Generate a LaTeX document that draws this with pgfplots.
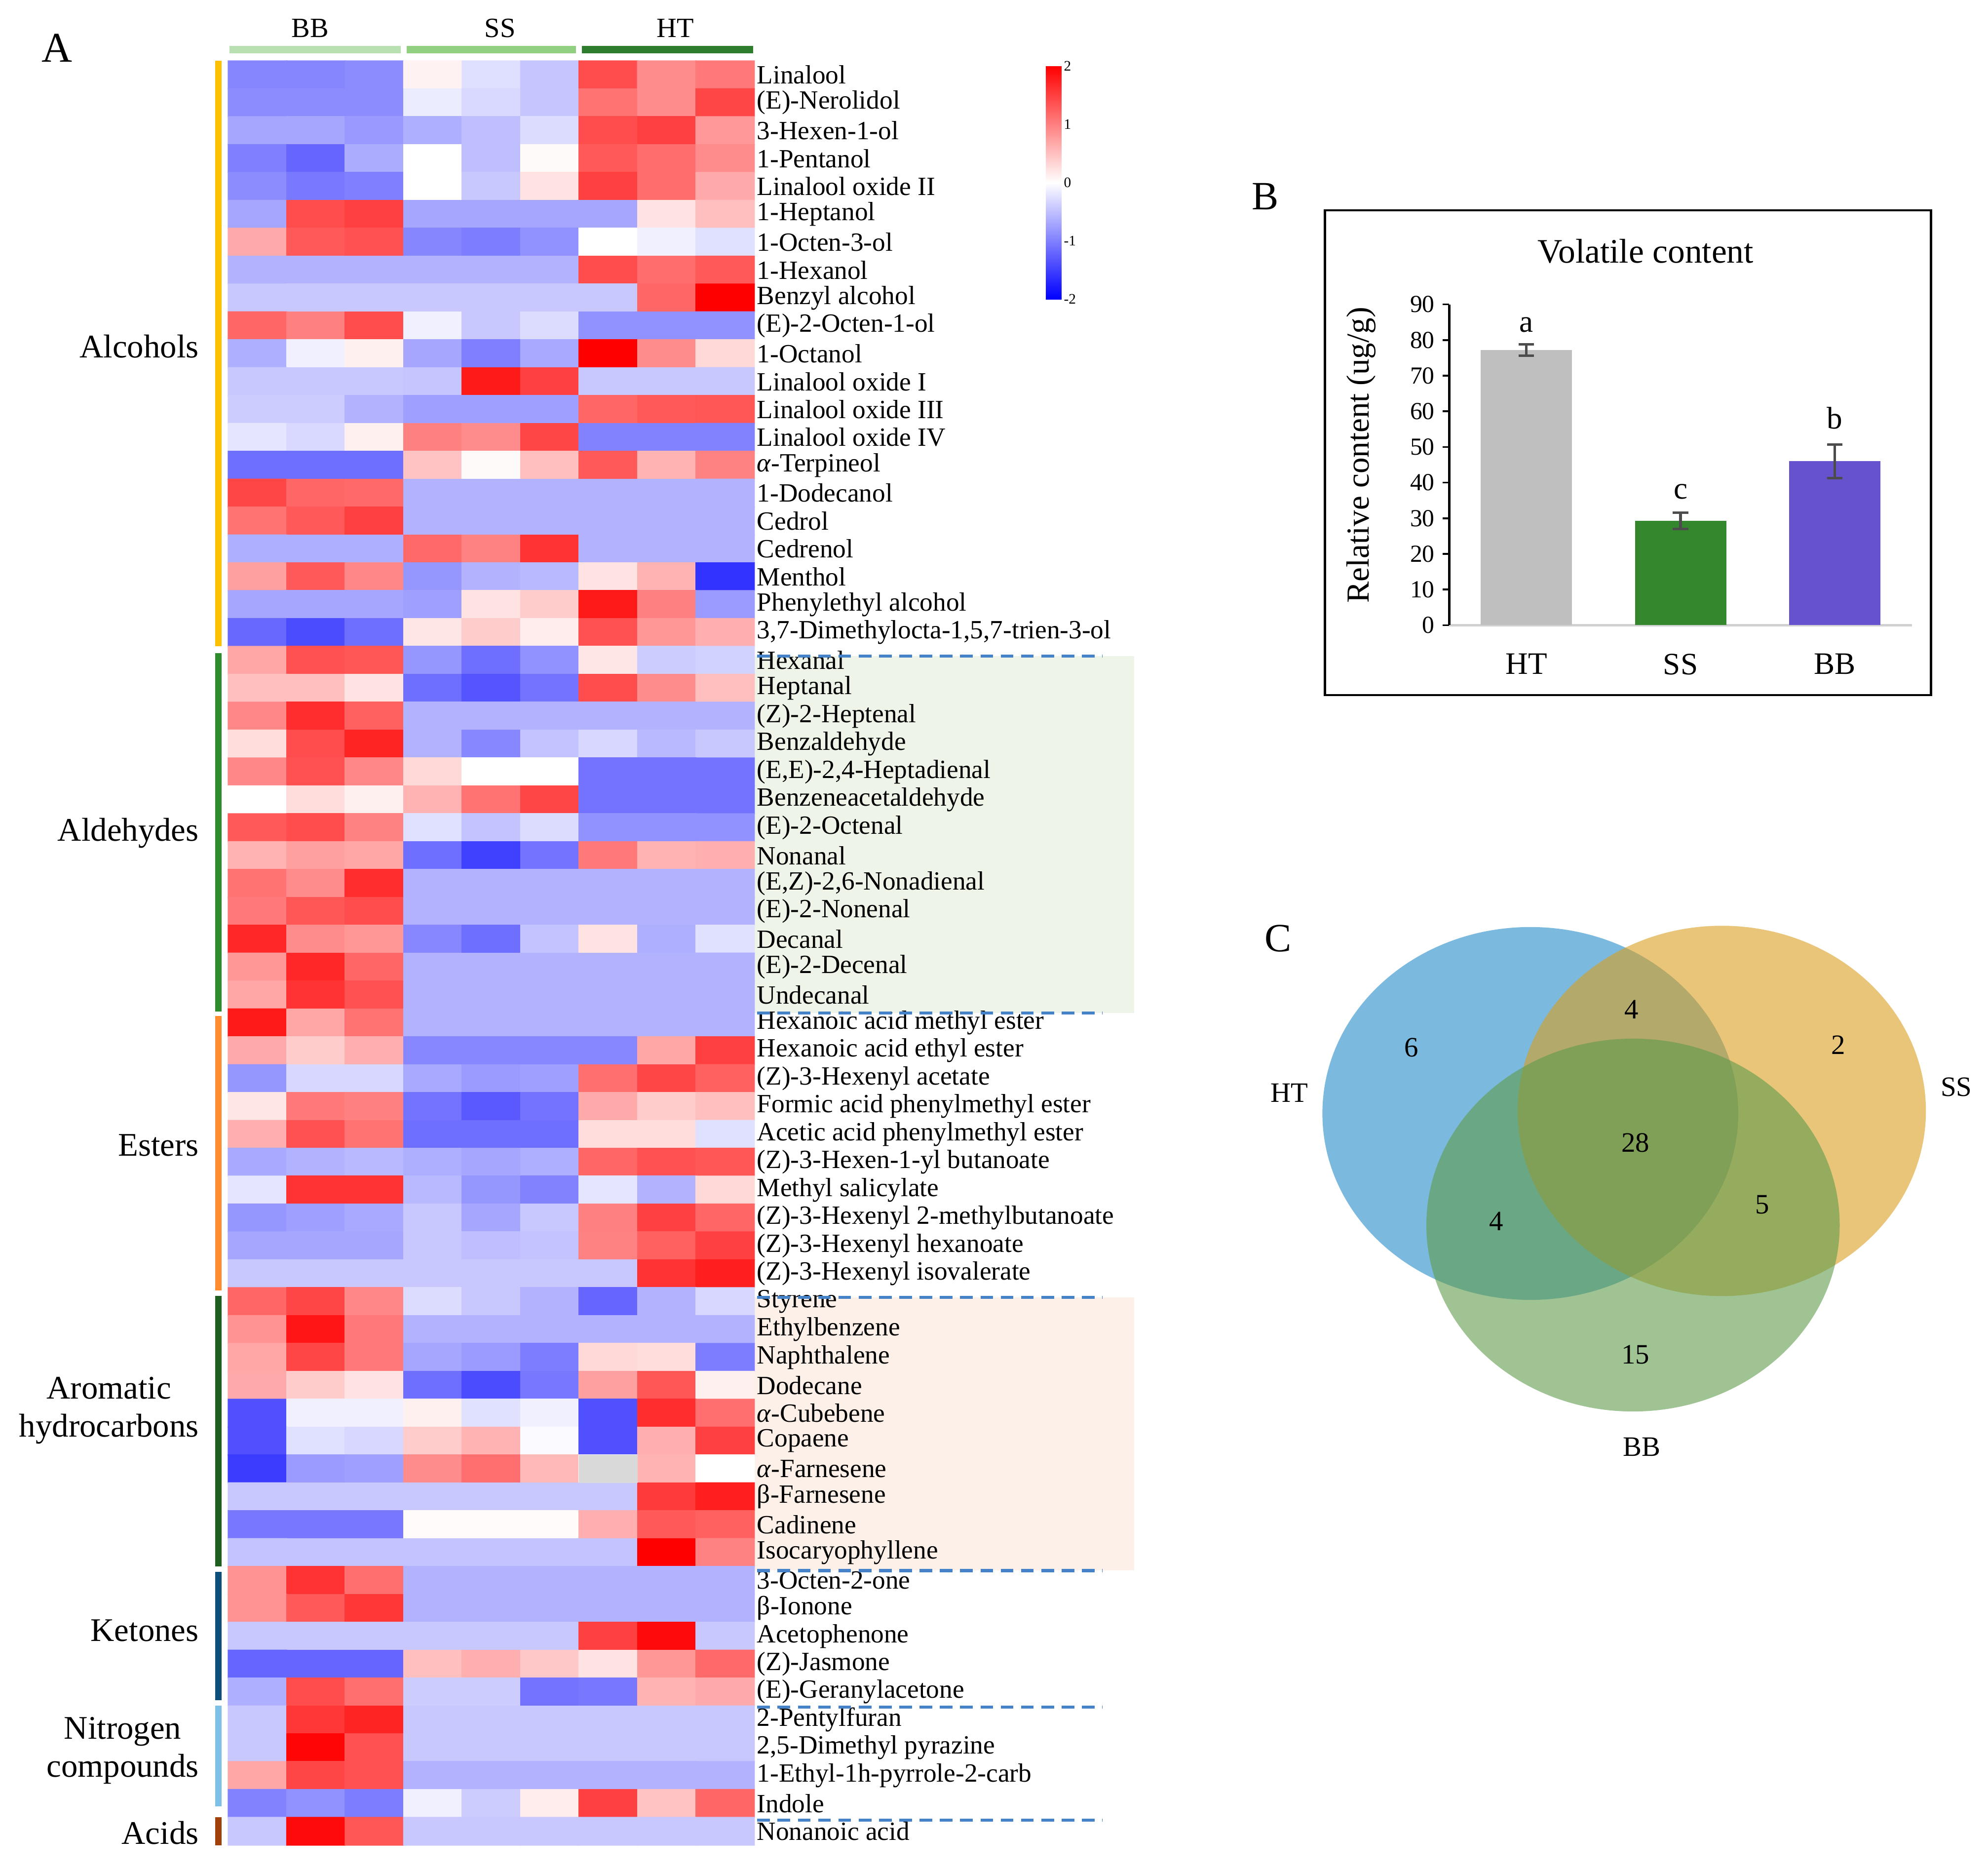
\documentclass[border=0pt]{standalone}
\usepackage{fontspec}
\setmainfont{Liberation Serif}
\usepackage{pgfplots}
\pgfplotsset{compat=1.18}

\definecolor{grpBB}{RGB}{184,224,176}
\definecolor{grpSS}{RGB}{144,208,128}
\definecolor{grpHT}{RGB}{46,125,46}
\definecolor{clsAlc}{RGB}{255,192,0}
\definecolor{clsAld}{RGB}{46,139,46}
\definecolor{clsEst}{RGB}{255,140,48}
\definecolor{clsAro}{RGB}{30,94,30}
\definecolor{clsKet}{RGB}{13,79,122}
\definecolor{clsNit}{RGB}{126,192,230}
\definecolor{clsAci}{RGB}{160,64,10}
\definecolor{shAld}{RGB}{238,245,232}
\definecolor{shAro}{RGB}{253,240,232}
\definecolor{dashblue}{RGB}{70,130,200}
\definecolor{barHT}{RGB}{191,191,191}
\definecolor{barSS}{RGB}{53,135,45}
\definecolor{barBB}{RGB}{102,82,204}
\definecolor{vHT}{RGB}{35,139,200}
\definecolor{vSS}{RGB}{217,158,32}
\definecolor{vBB}{RGB}{95,155,75}

\pgfplotsset{
  bwr/.style={colormap={bwr}{rgb255(0cm)=(0,0,255); rgb255(1cm)=(255,255,255); rgb255(2cm)=(255,0,0)},
    point meta min=-2, point meta max=2},
  heatframe/.style={at={(3.6cm,0.42cm)}, anchor=south west, scale only axis,
    width=8.3cm, height=28.14cm,
    xmin=-0.5, xmax=8.5, ymin=-0.5, ymax=63.5, y dir=reverse, clip=false},
}

\begin{document}
\begin{tikzpicture}
\useasboundingbox (0,0) rectangle (31.36,29.52);

% ---------------- A: shaded label backgrounds (drawn first) ----------------
\begin{axis}[heatframe, hide axis]
\addplot[fill=shAld, draw=none, mark=none] coordinates {(8.5,20.85) (15,20.85) (15,33.65) (8.5,33.65)} -- cycle;
\addplot[fill=shAro, draw=none, mark=none] coordinates {(8.5,43.85) (15,43.85) (15,53.65) (8.5,53.65)} -- cycle;
\end{axis}

% ---------------- A: heatmap ----------------
\begin{axis}[
  heatframe, no markers,
  axis line style={draw=none}, tick style={draw=none}, major tick length=0pt,
  xtick=\empty,
  ytick={0,...,63}, yticklabel pos=right,
  yticklabel style={anchor=west, inner xsep=1pt, font=\fontsize{11.8}{12}\selectfont},
  yticklabels={{Linalool},{(E)-Nerolidol},{3-Hexen-1-ol},{1-Pentanol},{Linalool oxide II},{1-Heptanol},{1-Octen-3-ol},{1-Hexanol},{Benzyl alcohol},{(E)-2-Octen-1-ol},{1-Octanol},{Linalool oxide I},{Linalool oxide III},{Linalool oxide IV},{\textit{α}-Terpineol},{1-Dodecanol},{Cedrol},{Cedrenol},{Menthol},{Phenylethyl alcohol},{3,7-Dimethylocta-1,5,7-trien-3-ol},
  {Hexanal},{Heptanal},{(Z)-2-Heptenal},{Benzaldehyde},{(E,E)-2,4-Heptadienal},{Benzeneacetaldehyde},{(E)-2-Octenal},{Nonanal},{(E,Z)-2,6-Nonadienal},{(E)-2-Nonenal},{Decanal},{(E)-2-Decenal},{Undecanal},
  {Hexanoic acid methyl ester},{Hexanoic acid ethyl ester},{(Z)-3-Hexenyl acetate},{Formic acid phenylmethyl ester},{Acetic acid phenylmethyl ester},{(Z)-3-Hexen-1-yl butanoate},{Methyl salicylate},{(Z)-3-Hexenyl 2-methylbutanoate},{(Z)-3-Hexenyl hexanoate},{(Z)-3-Hexenyl isovalerate},
  {Styrene},{Ethylbenzene},{Naphthalene},{Dodecane},{\textit{α}-Cubebene},{Copaene},{\textit{α}-Farnesene},{β-Farnesene},{Cadinene},{Isocaryophyllene},
  {3-Octen-2-one},{β-Ionone},{Acetophenone},{(Z)-Jasmone},{(E)-Geranylacetone},
  {2-Pentylfuran},{2,5-Dimethyl pyrazine},{1-Ethyl-1h-pyrrole-2-carb},{Indole},
  {Nonanoic acid}},
  bwr,
]
\addplot[matrix plot*, mesh/cols=9, point meta=explicit] table[row sep=\\, meta=c] {
x y c\\
0 0 -0.95\\ 1 0 -0.95\\ 2 0 -0.90\\ 3 0 0.10\\ 4 0 -0.25\\ 5 0 -0.45\\ 6 0 1.40\\ 7 0 0.90\\ 8 0 1.05\\
0 1 -0.90\\ 1 1 -0.90\\ 2 1 -0.90\\ 3 1 -0.15\\ 4 1 -0.30\\ 5 1 -0.45\\ 6 1 1.10\\ 7 1 0.90\\ 8 1 1.45\\
0 2 -0.70\\ 1 2 -0.70\\ 2 2 -0.80\\ 3 2 -0.63\\ 4 2 -0.50\\ 5 2 -0.27\\ 6 2 1.40\\ 7 2 1.50\\ 8 2 0.80\\
0 3 -1.00\\ 1 3 -1.20\\ 2 3 -0.65\\ 3 3 0.00\\ 4 3 -0.50\\ 5 3 0.04\\ 6 3 1.30\\ 7 3 1.15\\ 8 3 0.90\\
0 4 -0.90\\ 1 4 -1.05\\ 2 4 -1.00\\ 3 4 0.00\\ 4 4 -0.43\\ 5 4 0.23\\ 6 4 1.50\\ 7 4 1.15\\ 8 4 0.67\\
0 5 -0.70\\ 1 5 1.40\\ 2 5 1.50\\ 3 5 -0.70\\ 4 5 -0.70\\ 5 5 -0.70\\ 6 5 -0.70\\ 7 5 0.23\\ 8 5 0.50\\
0 6 0.67\\ 1 6 1.30\\ 2 6 1.37\\ 3 6 -0.95\\ 4 6 -1.02\\ 5 6 -0.86\\ 6 6 0.00\\ 7 6 -0.12\\ 8 6 -0.24\\
0 7 -0.60\\ 1 7 -0.60\\ 2 7 -0.60\\ 3 7 -0.60\\ 4 7 -0.60\\ 5 7 -0.60\\ 6 7 1.40\\ 7 7 1.15\\ 8 7 1.30\\
0 8 -0.43\\ 1 8 -0.43\\ 2 8 -0.43\\ 3 8 -0.43\\ 4 8 -0.43\\ 5 8 -0.43\\ 6 8 -0.43\\ 7 8 1.20\\ 8 8 2.00\\
0 9 1.20\\ 1 9 1.00\\ 2 9 1.40\\ 3 9 -0.12\\ 4 9 -0.43\\ 5 9 -0.27\\ 6 9 -0.86\\ 7 9 -0.86\\ 8 9 -0.86\\
0 10 -0.63\\ 1 10 -0.12\\ 2 10 0.12\\ 3 10 -0.70\\ 4 10 -1.00\\ 5 10 -0.67\\ 6 10 2.00\\ 7 10 0.90\\ 8 10 0.31\\
0 11 -0.43\\ 1 11 -0.43\\ 2 11 -0.43\\ 3 11 -0.45\\ 4 11 1.80\\ 5 11 1.50\\ 6 11 -0.43\\ 7 11 -0.43\\ 8 11 -0.43\\
0 12 -0.40\\ 1 12 -0.40\\ 2 12 -0.60\\ 3 12 -0.75\\ 4 12 -0.75\\ 5 12 -0.75\\ 6 12 1.20\\ 7 12 1.30\\ 8 12 1.33\\
0 13 -0.20\\ 1 13 -0.30\\ 2 13 0.12\\ 3 13 1.00\\ 4 13 0.90\\ 5 13 1.45\\ 6 13 -0.98\\ 7 13 -0.98\\ 8 13 -0.98\\
0 14 -1.13\\ 1 14 -1.13\\ 2 14 -1.13\\ 3 14 0.47\\ 4 14 0.04\\ 5 14 0.50\\ 6 14 1.30\\ 7 14 0.60\\ 8 14 0.98\\
0 15 1.45\\ 1 15 1.20\\ 2 15 1.18\\ 3 15 -0.60\\ 4 15 -0.60\\ 5 15 -0.60\\ 6 15 -0.60\\ 7 15 -0.60\\ 8 15 -0.60\\
0 16 1.10\\ 1 16 1.30\\ 2 16 1.50\\ 3 16 -0.60\\ 4 16 -0.60\\ 5 16 -0.60\\ 6 16 -0.60\\ 7 16 -0.60\\ 8 16 -0.60\\
0 17 -0.63\\ 1 17 -0.63\\ 2 17 -0.63\\ 3 17 1.18\\ 4 17 0.98\\ 5 17 1.60\\ 6 17 -0.60\\ 7 17 -0.60\\ 8 17 -0.60\\
0 18 0.75\\ 1 18 1.30\\ 2 18 0.94\\ 3 18 -0.82\\ 4 18 -0.60\\ 5 18 -0.55\\ 6 18 0.23\\ 7 18 0.60\\ 8 18 -1.60\\
0 19 -0.70\\ 1 19 -0.70\\ 2 19 -0.70\\ 3 19 -0.75\\ 4 19 0.23\\ 5 19 0.40\\ 6 19 1.80\\ 7 19 1.00\\ 8 19 -0.78\\
0 20 -1.18\\ 1 20 -1.40\\ 2 20 -1.13\\ 3 20 0.20\\ 4 20 0.40\\ 5 20 0.15\\ 6 20 1.37\\ 7 20 0.82\\ 8 20 0.63\\
0 21 0.70\\ 1 21 1.37\\ 2 21 1.33\\ 3 21 -0.82\\ 4 21 -1.13\\ 5 21 -0.86\\ 6 21 0.20\\ 7 21 -0.40\\ 8 21 -0.35\\
0 22 0.50\\ 1 22 0.50\\ 2 22 0.23\\ 3 22 -1.13\\ 4 22 -1.33\\ 5 22 -1.10\\ 6 22 1.40\\ 7 22 0.90\\ 8 22 0.50\\
0 23 0.94\\ 1 23 1.65\\ 2 23 1.25\\ 3 23 -0.60\\ 4 23 -0.60\\ 5 23 -0.60\\ 6 23 -0.60\\ 7 23 -0.60\\ 8 23 -0.60\\
0 24 0.27\\ 1 24 1.40\\ 2 24 1.72\\ 3 24 -0.60\\ 4 24 -0.94\\ 5 24 -0.47\\ 6 24 -0.31\\ 7 24 -0.55\\ 8 24 -0.43\\
0 25 0.94\\ 1 25 1.37\\ 2 25 0.94\\ 3 25 0.31\\ 4 25 0.00\\ 5 25 0.00\\ 6 25 -1.10\\ 7 25 -1.10\\ 8 25 -1.10\\
0 26 0.00\\ 1 26 0.27\\ 2 26 0.12\\ 3 26 0.60\\ 4 26 1.10\\ 5 26 1.45\\ 6 26 -1.10\\ 7 26 -1.10\\ 8 26 -1.10\\
0 27 1.30\\ 1 27 1.40\\ 2 27 0.98\\ 3 27 -0.24\\ 4 27 -0.47\\ 5 27 -0.27\\ 6 27 -0.86\\ 7 27 -0.86\\ 8 27 -0.86\\
0 28 0.60\\ 1 28 0.75\\ 2 28 0.70\\ 3 28 -1.13\\ 4 28 -1.50\\ 5 28 -1.10\\ 6 28 1.05\\ 7 28 0.60\\ 8 28 0.63\\
0 29 1.10\\ 1 29 0.90\\ 2 29 1.65\\ 3 29 -0.60\\ 4 29 -0.60\\ 5 29 -0.60\\ 6 29 -0.60\\ 7 29 -0.60\\ 8 29 -0.60\\
0 30 1.05\\ 1 30 1.33\\ 2 30 1.40\\ 3 30 -0.60\\ 4 30 -0.60\\ 5 30 -0.60\\ 6 30 -0.60\\ 7 30 -0.60\\ 8 30 -0.60\\
0 31 1.70\\ 1 31 0.90\\ 2 31 0.82\\ 3 31 -0.94\\ 4 31 -1.13\\ 5 31 -0.47\\ 6 31 0.23\\ 7 31 -0.63\\ 8 31 -0.24\\
0 32 0.82\\ 1 32 1.70\\ 2 32 1.20\\ 3 32 -0.60\\ 4 32 -0.60\\ 5 32 -0.60\\ 6 32 -0.60\\ 7 32 -0.60\\ 8 32 -0.60\\
0 33 0.70\\ 1 33 1.60\\ 2 33 1.37\\ 3 33 -0.60\\ 4 33 -0.60\\ 5 33 -0.60\\ 6 33 -0.60\\ 7 33 -0.60\\ 8 33 -0.60\\
0 34 1.80\\ 1 34 0.70\\ 2 34 1.10\\ 3 34 -0.60\\ 4 34 -0.60\\ 5 34 -0.60\\ 6 34 -0.60\\ 7 34 -0.60\\ 8 34 -0.60\\
0 35 0.67\\ 1 35 0.40\\ 2 35 0.63\\ 3 35 -0.94\\ 4 35 -0.94\\ 5 35 -0.94\\ 6 35 -0.94\\ 7 35 0.70\\ 8 35 1.50\\
0 36 -0.82\\ 1 36 -0.31\\ 2 36 -0.31\\ 3 36 -0.67\\ 4 36 -0.78\\ 5 36 -0.75\\ 6 36 1.13\\ 7 36 1.45\\ 8 36 1.25\\
0 37 0.20\\ 1 37 1.05\\ 2 37 1.00\\ 3 37 -1.10\\ 4 37 -1.30\\ 5 37 -1.10\\ 6 37 0.67\\ 7 37 0.40\\ 8 37 0.50\\
0 38 0.63\\ 1 38 1.37\\ 2 38 1.10\\ 3 38 -1.13\\ 4 38 -1.13\\ 5 38 -1.13\\ 6 38 0.27\\ 7 38 0.27\\ 8 38 -0.24\\
0 39 -0.67\\ 1 39 -0.60\\ 2 39 -0.55\\ 3 39 -0.63\\ 4 39 -0.70\\ 5 39 -0.63\\ 6 39 1.20\\ 7 39 1.37\\ 8 39 1.33\\
0 40 -0.20\\ 1 40 1.60\\ 2 40 1.60\\ 3 40 -0.55\\ 4 40 -0.82\\ 5 40 -0.98\\ 6 40 -0.20\\ 7 40 -0.60\\ 8 40 0.31\\
0 41 -0.82\\ 1 41 -0.75\\ 2 41 -0.67\\ 3 41 -0.43\\ 4 41 -0.70\\ 5 41 -0.43\\ 6 41 1.00\\ 7 41 1.50\\ 8 41 1.20\\
0 42 -0.70\\ 1 42 -0.70\\ 2 42 -0.70\\ 3 42 -0.43\\ 4 42 -0.50\\ 5 42 -0.47\\ 6 42 0.98\\ 7 42 1.25\\ 8 42 1.50\\
0 43 -0.43\\ 1 43 -0.43\\ 2 43 -0.43\\ 3 43 -0.43\\ 4 43 -0.43\\ 5 43 -0.43\\ 6 43 -0.43\\ 7 43 1.60\\ 8 43 1.76\\
0 44 1.20\\ 1 44 1.45\\ 2 44 0.94\\ 3 44 -0.27\\ 4 44 -0.43\\ 5 44 -0.60\\ 6 44 -1.20\\ 7 44 -0.60\\ 8 44 -0.31\\
0 45 0.86\\ 1 45 1.84\\ 2 45 1.05\\ 3 45 -0.60\\ 4 45 -0.60\\ 5 45 -0.60\\ 6 45 -0.60\\ 7 45 -0.60\\ 8 45 -0.60\\
0 46 0.70\\ 1 46 1.45\\ 2 46 1.05\\ 3 46 -0.70\\ 4 46 -0.78\\ 5 46 -1.02\\ 6 46 0.31\\ 7 46 0.27\\ 8 46 -1.02\\
0 47 0.67\\ 1 47 0.40\\ 2 47 0.23\\ 3 47 -1.13\\ 4 47 -1.40\\ 5 47 -1.06\\ 6 47 0.75\\ 7 47 1.33\\ 8 47 0.12\\
0 48 -1.37\\ 1 48 -0.12\\ 2 48 -0.12\\ 3 48 0.12\\ 4 48 -0.24\\ 5 48 -0.12\\ 6 48 -1.37\\ 7 48 1.65\\ 8 48 1.13\\
0 49 -1.37\\ 1 49 -0.24\\ 2 49 -0.31\\ 3 49 0.40\\ 4 49 0.60\\ 5 49 -0.04\\ 6 49 -1.37\\ 7 49 0.63\\ 8 49 1.50\\
0 50 -1.53\\ 1 50 -0.78\\ 2 50 -0.75\\ 3 50 0.90\\ 4 50 1.13\\ 5 50 0.55\\ 6 50 0.00\\ 7 50 0.60\\ 8 50 0.00\\
0 51 -0.43\\ 1 51 -0.43\\ 2 51 -0.43\\ 3 51 -0.43\\ 4 51 -0.43\\ 5 51 -0.43\\ 6 51 -0.43\\ 7 51 1.55\\ 8 51 1.76\\
0 52 -1.06\\ 1 52 -1.06\\ 2 52 -1.06\\ 3 52 0.03\\ 4 52 0.03\\ 5 52 0.03\\ 6 52 0.63\\ 7 52 1.30\\ 8 52 1.25\\
0 53 -0.47\\ 1 53 -0.47\\ 2 53 -0.47\\ 3 53 -0.47\\ 4 53 -0.47\\ 5 53 -0.47\\ 6 53 -0.47\\ 7 53 2.00\\ 8 53 0.98\\
0 54 0.86\\ 1 54 1.60\\ 2 54 1.13\\ 3 54 -0.60\\ 4 54 -0.60\\ 5 54 -0.60\\ 6 54 -0.60\\ 7 54 -0.60\\ 8 54 -0.60\\
0 55 0.86\\ 1 55 1.30\\ 2 55 1.57\\ 3 55 -0.60\\ 4 55 -0.60\\ 5 55 -0.60\\ 6 55 -0.60\\ 7 55 -0.60\\ 8 55 -0.60\\
0 56 -0.43\\ 1 56 -0.43\\ 2 56 -0.43\\ 3 56 -0.43\\ 4 56 -0.43\\ 5 56 -0.43\\ 6 56 1.50\\ 7 56 1.92\\ 8 56 -0.43\\
0 57 -1.20\\ 1 57 -1.20\\ 2 57 -1.20\\ 3 57 0.50\\ 4 57 0.63\\ 5 57 0.43\\ 6 57 0.23\\ 7 57 0.82\\ 8 57 1.18\\
0 58 -0.63\\ 1 58 1.40\\ 2 58 1.13\\ 3 58 -0.40\\ 4 58 -0.40\\ 5 58 -1.10\\ 6 58 -1.06\\ 7 58 0.60\\ 8 58 0.67\\
0 59 -0.43\\ 1 59 1.57\\ 2 59 1.72\\ 3 59 -0.43\\ 4 59 -0.43\\ 5 59 -0.43\\ 6 59 -0.43\\ 7 59 -0.43\\ 8 59 -0.43\\
0 60 -0.43\\ 1 60 1.96\\ 2 60 1.37\\ 3 60 -0.43\\ 4 60 -0.43\\ 5 60 -0.43\\ 6 60 -0.43\\ 7 60 -0.43\\ 8 60 -0.43\\
0 61 0.70\\ 1 61 1.45\\ 2 61 1.37\\ 3 61 -0.60\\ 4 61 -0.60\\ 5 61 -0.60\\ 6 61 -0.60\\ 7 61 -0.60\\ 8 61 -0.60\\
0 62 -0.98\\ 1 62 -0.86\\ 2 62 -1.02\\ 3 62 -0.12\\ 4 62 -0.40\\ 5 62 0.15\\ 6 62 1.50\\ 7 62 0.47\\ 8 62 1.20\\
0 63 -0.43\\ 1 63 1.92\\ 2 63 1.33\\ 3 63 -0.43\\ 4 63 -0.43\\ 5 63 -0.43\\ 6 63 -0.43\\ 7 63 -0.43\\ 8 63 -0.43\\
};
% missing value (grey cell)
\addplot[fill=gray!30, draw=none] coordinates {(5.5,49.5) (6.5,49.5) (6.5,50.5) (5.5,50.5)} -- cycle;

% group bars on top
\addplot[grpBB, line width=0.12cm] coordinates {(-0.48,-0.9) (2.45,-0.9)};
\addplot[grpSS, line width=0.12cm] coordinates {(2.55,-0.9) (5.45,-0.9)};
\addplot[grpHT, line width=0.12cm] coordinates {(5.55,-0.9) (8.48,-0.9)};
\node[font=\fontsize{12.5}{12.5}\selectfont] at (axis cs:0.9,-1.68) {BB};
\node[font=\fontsize{12.5}{12.5}\selectfont] at (axis cs:4.15,-1.68) {SS};
\node[font=\fontsize{12.5}{12.5}\selectfont] at (axis cs:7.15,-1.68) {HT};

% class bars
\addplot[clsAlc, line width=0.1cm] coordinates {(-0.67,-0.5) (-0.67,20.5)};
\addplot[clsAld, line width=0.1cm] coordinates {(-0.67,20.75) (-0.67,33.6)};
\addplot[clsEst, line width=0.1cm] coordinates {(-0.67,33.75) (-0.67,43.6)};
\addplot[clsAro, line width=0.1cm] coordinates {(-0.67,43.8) (-0.67,53.5)};
\addplot[clsKet, line width=0.1cm] coordinates {(-0.67,53.7) (-0.67,58.3)};
\addplot[clsNit, line width=0.1cm] coordinates {(-0.67,58.5) (-0.67,62.1)};
\addplot[clsAci, line width=0.1cm] coordinates {(-0.67,62.5) (-0.67,63.5)};

% dashed separators
\addplot[dashblue, line width=1.4pt, dash pattern=on 0.2cm off 0.12cm] coordinates {(8.55,20.85) (14.45,20.85)};
\addplot[dashblue, line width=1.4pt, dash pattern=on 0.2cm off 0.12cm] coordinates {(8.55,33.65) (14.45,33.65)};
\addplot[dashblue, line width=1.4pt, dash pattern=on 0.2cm off 0.12cm] coordinates {(8.55,43.85) (14.45,43.85)};
\addplot[dashblue, line width=1.4pt, dash pattern=on 0.2cm off 0.12cm] coordinates {(8.55,53.65) (14.45,53.65)};
\addplot[dashblue, line width=1.4pt, dash pattern=on 0.2cm off 0.12cm] coordinates {(8.55,58.55) (14.45,58.55)};
\addplot[dashblue, line width=1.4pt, dash pattern=on 0.2cm off 0.12cm] coordinates {(8.55,62.6) (14.45,62.6)};

% class names
\begin{scope}[every node/.style={anchor=east, align=center, font=\fontsize{14.8}{17}\selectfont}]
\node at (axis cs:-0.87,9.74) {Alcohols};
\node at (axis cs:-0.87,27.2) {Aldehydes};
\node at (axis cs:-0.87,38.4) {Esters};
\node at (axis cs:-0.87,47.9) {Aromatic\\hydrocarbons};
\node at (axis cs:-0.87,55.8) {Ketones};
\node at (axis cs:-0.87,60.1) {Nitrogen\\compounds};
\node at (axis cs:-0.87,63.06) {Acids};
\end{scope}
\end{axis}

% ---------------- colour bar ----------------
\begin{axis}[
  at={(16.5cm,24.8cm)}, anchor=south west, scale only axis,
  width=0.24cm, height=3.68cm,
  xmin=0, xmax=1, ymin=-2, ymax=2,
  axis line style={draw=none}, tick style={draw=none}, major tick length=0pt,
  xtick=\empty, ytick={-2,-1,0,1,2}, yticklabel pos=right,
  yticklabel style={font=\fontsize{6.5}{7}\selectfont, inner xsep=1pt},
  /pgf/number format/assume math mode=true,
  bwr,
]
\addplot[surf, shader=interp, mesh/cols=2, point meta=explicit] table[row sep=\\, meta=c] {
x y c\\ 0 -2 -2\\ 1 -2 -2\\ 0 0 0\\ 1 0 0\\ 0 2 2\\ 1 2 2\\
};
\end{axis}

% ---------------- B: bar chart ----------------
\begin{axis}[
  at={(22.86cm,19.66cm)}, anchor=south west, scale only axis,
  width=7.3cm, height=5.06cm,
  xmin=-0.5, xmax=2.5, ymin=0, ymax=90,
  axis x line=bottom, axis y line=left,
  x axis line style={draw=black!18, line width=1pt, -},
  y axis line style={black, line width=1pt, -},
  xtick={0,1,2}, xticklabels={HT,SS,BB}, xtick style={draw=none},
  ytick={0,10,...,90}, ytick style={black, line width=0.8pt}, tick align=outside, major tick length=3pt,
  xticklabel style={font=\fontsize{14}{14}\selectfont, yshift=-0.22cm},
  yticklabel style={font=\fontsize{11}{11}\selectfont},
  /pgf/number format/assume math mode=true,
  ylabel={Relative content (ug/g)},
  ylabel style={at={(axis description cs:-0.19,0.53)}, anchor=center, font=\fontsize{14.4}{15}\selectfont},
  clip=false,
]
\addplot[ybar, bar width=1.44cm, bar shift=0pt, fill=barHT, draw=none,
  error bars/.cd, y dir=both, y explicit,
  error bar style={line width=1.2pt, black!70},
  error mark options={rotate=90, mark size=3.5pt, line width=1.2pt, black!70}]
  coordinates {(0,77.2) +- (0,1.6)};
\addplot[ybar, bar width=1.44cm, bar shift=0pt, fill=barSS, draw=none,
  error bars/.cd, y dir=both, y explicit,
  error bar style={line width=1.2pt, black!70},
  error mark options={rotate=90, mark size=3.5pt, line width=1.2pt, black!70}]
  coordinates {(1,29.3) +- (0,2.3)};
\addplot[ybar, bar width=1.44cm, bar shift=0pt, fill=barBB, draw=none,
  error bars/.cd, y dir=both, y explicit,
  error bar style={line width=1.2pt, black!70},
  error mark options={rotate=90, mark size=3.5pt, line width=1.2pt, black!70}]
  coordinates {(2,46.0) +- (0,4.7)};
\node[font=\fontsize{14}{14}\selectfont] at (axis cs:0,84.3) {a};
\node[font=\fontsize{14}{14}\selectfont] at (axis cs:1,37.4) {c};
\node[font=\fontsize{14}{14}\selectfont] at (axis cs:2,58.1) {b};
\end{axis}
\draw[line width=0.9pt] (20.9,18.56) rectangle (30.46,26.2);
\node[font=\fontsize{15.4}{16}\selectfont] at (25.96,25.56) {Volatile content};

% ---------------- C: Venn diagram ----------------
\begin{axis}[
  at={(19.46cm,6.16cm)}, anchor=south west, scale only axis,
  width=11.9cm, height=9.36cm,
  xmin=973, xmax=1568, ymin=308, ymax=776,
  hide axis, clip=false,
]
\fill[vHT, fill opacity=0.6] (axis cs:1207,598) ellipse [x radius=164, y radius=147];
\fill[vSS, fill opacity=0.6] (axis cs:1358,600) ellipse [x radius=161, y radius=146];
\fill[vBB, fill opacity=0.6] (axis cs:1288,510) ellipse [x radius=163, y radius=147];
\begin{scope}[every node/.style={font=\fontsize{12.6}{13}\selectfont}]
\node at (axis cs:1017,614) {HT};
\node at (axis cs:1543,619) {SS};
\node at (axis cs:1295,335) {BB};
\node at (axis cs:1113,650) {6};
\node at (axis cs:1287,680) {4};
\node at (axis cs:1450,652) {2};
\node at (axis cs:1290,575) {28};
\node at (axis cs:1180,513) {4};
\node at (axis cs:1390,526) {5};
\node at (axis cs:1290,408) {15};
\end{scope}
\end{axis}

% panel letters
\node[font=\fontsize{19}{19}\selectfont] at (0.9,28.76) {A};
\node[font=\fontsize{18}{18}\selectfont] at (19.96,26.42) {B};
\node[font=\fontsize{18}{18}\selectfont] at (20.16,14.72) {C};
\end{tikzpicture}
\end{document}
